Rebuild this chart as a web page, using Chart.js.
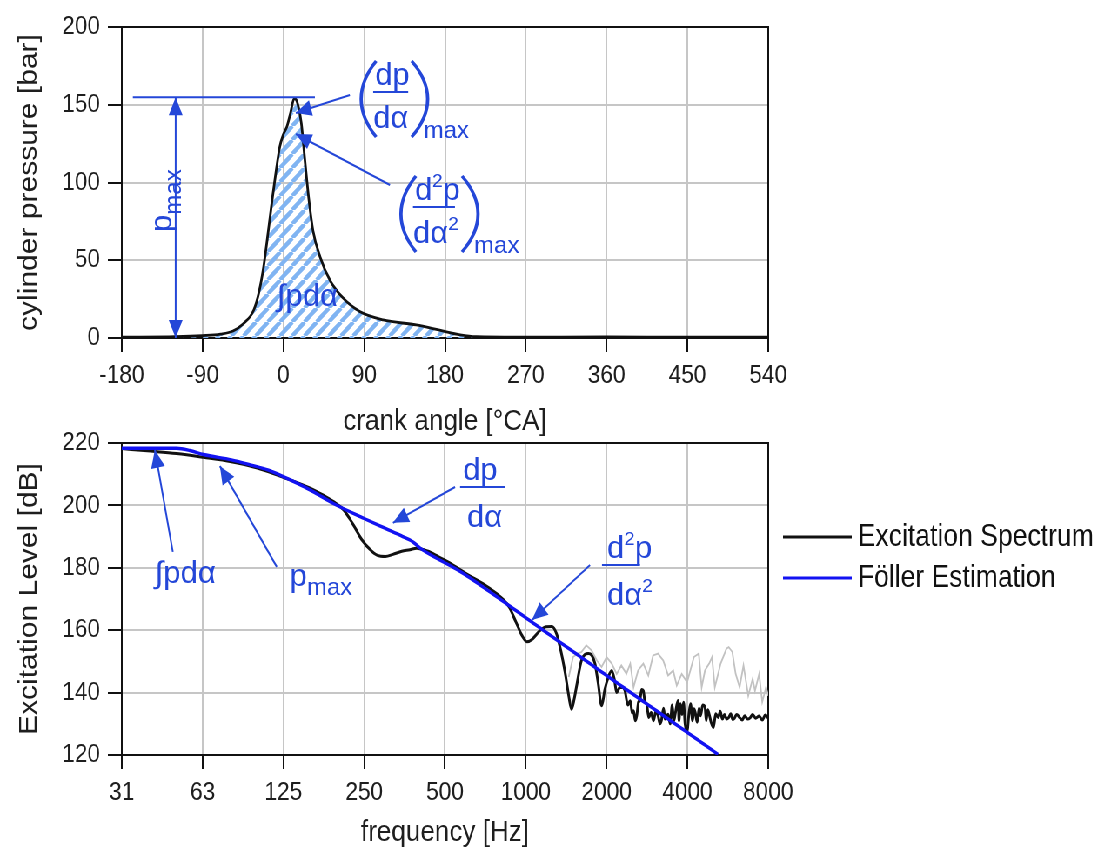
<!DOCTYPE html>
<html>
<head>
<meta charset="utf-8">
<script src="https://cdn.jsdelivr.net/npm/chart.js@4.4.1/dist/chart.umd.min.js"></script>
<style>
html, body { margin: 0; padding: 0; background: #fff; overflow: hidden; }
/* the source figure is squeezed horizontally, so draw wider and squeeze */
#wrap { position: relative; width: 1277px; height: 851px; transform: scaleX(0.87); transform-origin: 0 0; }
#top { position: absolute; left: 0; top: 0; }
#bottom { position: absolute; left: 0; top: 410px; }
</style>
</head>
<body>
<div id="wrap">
  <canvas id="top" width="1277" height="440"></canvas>
  <canvas id="bottom" width="1277" height="441"></canvas>
</div>
<script>
const SQ = 0.87;
const FONT = "'Liberation Sans', Arial, sans-serif";
const NOTE_FONT = "'Liberation Sans', 'DejaVu Sans', sans-serif";
const textColor = '#1e1e1e';
const gridColor = '#c6c6c6';
const noteBlue = '#2447d8';
const follerBlue = '#1212f2';

// cylinder pressure vs crank angle
const crankAngle = [-180, -120, -90, -70, -56, -45, -33, -27, -22, -17,
                    -12, -8, -4, 0, 4, 8, 12, 14, 17, 20,
                    24, 28, 33, 41, 52, 66, 85, 111, 148, 174,
                    197, 215, 260, 360, 450, 540];
const pressure = [0.5, 0.8, 1.5, 2.5, 4.5, 9, 18, 30, 46, 68,
                  91, 108, 123, 131, 136, 145, 154, 153.5, 148, 138,
                  114, 91, 69, 52, 37, 26, 17, 11.6, 8.4, 5,
                  2, 0.8, 0.5, 0.7, 0.5, 0.5];

// excitation spectrum (black)
const specFreq = [31.25, 40, 50, 63, 80, 100, 125, 160, 192, 210,
                  227, 245, 262, 280, 300, 320, 345, 370, 392, 430,
                  470, 520, 603, 717, 824, 870, 920, 965, 1010, 1060,
                  1120, 1190, 1250, 1300, 1350, 1400, 1445, 1480, 1515, 1545,
                  1612, 1709, 1760, 1810, 1860, 1916, 1970, 2030, 2090, 2140,
                  2180, 2240, 2300, 2340, 2400, 2450, 2490, 2520, 2560, 2590,
                  2630, 2660, 2700, 2740, 2780, 2820, 2870, 2930, 2990, 3050,
                  3110, 3160, 3200, 3260, 3300, 3390, 3450, 3510, 3560, 3610,
                  3690, 3720, 3770, 3820, 3870, 3920, 3990, 4050, 4110, 4180,
                  4230, 4280, 4350, 4420, 4480, 4560, 4650, 4700, 4760, 4820,
                  4900, 5000, 5100, 5210, 5300, 5400, 5500, 5600, 5700, 5800,
                  5900, 5990, 6100, 6260, 6400, 6540, 6700, 6860, 7000, 7180,
                  7400, 7600, 7800, 8000];
const specLevel = [218.2, 217.4, 216.6, 215.4, 214, 212, 209, 205.2, 201.2, 198.5,
                   194, 189, 186, 184, 183.6, 184.3, 185.3, 185.8, 186.3, 185.4,
                   183.7, 181.6, 178, 174, 169.8, 167.2, 162.5, 158.5, 156.3, 157.2,
                   159.6, 161.1, 161.2, 159, 153.5, 146.5, 139, 134.7, 138, 142,
                   150.3, 152.5, 152, 149.3, 143, 135.8, 141, 145, 147.1, 144,
                   140, 141.7, 141.6, 140.6, 136, 137.4, 133.5, 134.2, 131, 132.6,
                   137, 137.4, 141, 140.6, 137, 136.4, 132, 133.6, 131, 134,
                   132.6, 130, 131, 135, 131.5, 133.1, 130, 136, 131, 133.6,
                   137.5, 131, 136.4, 133, 136.9, 130, 127.7, 133, 136.4, 131,
                   134.8, 133.6, 130.5, 135, 132.6, 136, 135.3, 131, 134.5, 133.1,
                   130.5, 128.8, 133.2, 132, 134, 131.5, 133, 131.5, 132, 133.2,
                   131.4, 131.8, 133, 132, 131.2, 132.6, 131.5, 132, 133, 131.8,
                   132.5, 131.2, 132.8, 131.8];

// light grey trace (no legend entry)
const greyFreq = [1445, 1500, 1560, 1612, 1680, 1760, 1840, 1916, 2000, 2090,
                  2180, 2270, 2370, 2450, 2520, 2620, 2740, 2860, 2980, 3110,
                  3250, 3390, 3540, 3650, 3810, 3990, 4230, 4410, 4520, 4650,
                  4820, 4940, 5060, 5320, 5590, 5700, 5880, 6050, 6260, 6470,
                  6740, 7000, 7140, 7400, 7600, 7850, 8000];
const greyLevel = [145, 151.4, 152.5, 153, 155.2, 153.5, 150.3, 148.2, 151.4, 149.3,
                   146, 148.7, 146, 149.3, 141.7, 147.1, 149.3, 145.5, 151.9, 152.5,
                   150.3, 145.5, 147.1, 142.3, 146, 143.3, 151.4, 152.5, 141.7, 147.1,
                   149.3, 151.4, 141.7, 149.3, 154.1, 154.6, 153, 146, 141.7, 148.7,
                   139, 144.4, 140.6, 146, 137, 141.7, 139];

// Föller estimation (blue)
const follerFreq = [31.25, 50, 56, 63, 80, 94, 110, 125, 160, 192,
                    250, 300, 348, 380, 404, 570, 1000, 2000, 4000, 5200];
const follerLevel = [218.3, 218.3, 217.6, 216.3, 214.6, 213, 211.3, 209.2, 204.6, 200.6,
                     195.8, 192.6, 190, 188.3, 186.3, 178.8, 164, 145.5, 127.2, 120.2];

const freqTicks = [31.25, 62.5, 125, 250, 500, 1000, 2000, 4000, 8000];
const freqTickLabels = ['31', '63', '125', '250', '500', '1000', '2000', '4000', '8000'];

const seriesLabels = ['Excitation Spectrum', 'Föller Estimation'];

// annotations, anchored in data units
const topNotes = [
    { type: 'line', from: [-167.7, 154.8], to: [35.1, 154.8] },
    { type: 'arrow', from: [-120, 0], to: [-120, 154.8], both: true },
    { type: 'rtext', at: [-124.3, 68.2], parts: [['p', 'n'], ['max', 'sub']] },
    { type: 'text', at: [-7.2, 20.6], parts: [['∫pdα', 'n']] },
    { type: 'frac', at: [100, 158.2], num: [['dp', 'n']], den: [['dα', 'n']], bar: 35, parens: true },
    { type: 'arrow', from: [74.1, 156.3], to: [13.9, 144.7] },
    { type: 'frac', at: [144.3, 84.2], num: [['d', 'n'], ['2', 'sup'], ['p', 'n']],
      den: [['dα', 'n'], ['2', 'sup']], bar: 42, parens: true },
    { type: 'arrow', from: [118.7, 98.4], to: [13.9, 131.2] }
];
const bottomNotes = [
    { type: 'text', at: [41.5, 175.1], parts: [['∫pdα', 'n']] },
    { type: 'arrow', from: [48.4, 185.1], to: [41.5, 217.8] },
    { type: 'text', at: [131.9, 174.2], parts: [['p', 'n'], ['max', 'sub']] },
    { type: 'arrow', from: [118.1, 180.3], to: [72.5, 212.6] },
    { type: 'frac', at: [569, 205.9], num: [['dp', 'n']], den: [['dα', 'n']], bar: 45, numX: 3, denX: 7, denY: 40 },
    { type: 'arrow', from: [545, 205.9], to: [320, 194.4] },
    { type: 'frac', at: [1922, 180.9], num: [['d', 'n'], ['2', 'sup'], ['p', 'n']],
      den: [['dα', 'n'], ['2', 'sup']], bar: 38, numX: 5, denX: 5, denY: 40 },
    { type: 'arrow', from: [1735, 180.9], to: [1055, 163.3] }
];

Chart.defaults.font.family = FONT;
Chart.defaults.color = textColor;

function toPixel(chart, p) {
    return [chart.scales.x.getPixelForValue(p[0]), chart.scales.y.getPixelForValue(p[1])];
}

function drawParts(ctx, x, y, parts) {
    for (const [s, kind] of parts) {
        const size = kind === 'n' ? 31 : kind === 'sub' ? 24 : 19;
        const dy = kind === 'sup' ? -13 : kind === 'sub' ? 9 : 0;
        ctx.font = size + 'px ' + NOTE_FONT;
        ctx.fillText(s, x, y + dy);
        x += ctx.measureText(s).width;
    }
    return x;
}

function paren(ctx, apexX, endX, y1, y2) {
    ctx.beginPath();
    ctx.moveTo(endX, y1);
    ctx.quadraticCurveTo(2 * apexX - endX, (y1 + y2) / 2, endX, y2);
    ctx.lineWidth = 3.2;
    ctx.stroke();
}

function arrowHead(ctx, fx, fy, tx, ty) {
    const a = Math.atan2(ty - fy, tx - fx), len = 18, hw = 8;
    const bx = tx - len * Math.cos(a), by = ty - len * Math.sin(a);
    ctx.beginPath();
    ctx.moveTo(tx, ty);
    ctx.lineTo(bx + hw * Math.sin(a), by - hw * Math.cos(a));
    ctx.lineTo(bx - hw * Math.sin(a), by + hw * Math.cos(a));
    ctx.closePath();
    ctx.fill();
}

const notesPlugin = {
    id: 'notes',
    afterDatasetsDraw(chart, args, opts) {
        const ctx = chart.ctx;
        ctx.save();
        ctx.strokeStyle = noteBlue;
        ctx.fillStyle = noteBlue;
        ctx.textBaseline = 'alphabetic';
        ctx.textAlign = 'left';
        for (const n of opts.items || []) {
            if (n.type === 'line' || n.type === 'arrow') {
                const [x1, y1] = toPixel(chart, n.from);
                const [x2, y2] = toPixel(chart, n.to);
                ctx.lineWidth = 2;
                ctx.beginPath();
                ctx.moveTo(x1, y1);
                ctx.lineTo(x2, y2);
                ctx.stroke();
                if (n.type === 'arrow') {
                    arrowHead(ctx, x1, y1, x2, y2);
                    if (n.both) arrowHead(ctx, x2, y2, x1, y1);
                }
            } else {
                const [ox, oy] = toPixel(chart, n.at);
                ctx.save();
                ctx.translate(ox, oy);
                ctx.scale(1 / SQ, 1);   // keep note text un-squeezed
                if (n.type === 'rtext') {
                    ctx.rotate(-Math.PI / 2);
                    drawParts(ctx, 0, 0, n.parts);
                } else if (n.type === 'text') {
                    drawParts(ctx, 0, 0, n.parts);
                } else if (n.type === 'frac') {
                    ctx.lineWidth = 2;
                    ctx.beginPath();
                    ctx.moveTo(0, 0);
                    ctx.lineTo(n.bar, 0);
                    ctx.stroke();
                    const numEnd = drawParts(ctx, n.numX ?? 2, -7, n.num);
                    const denEnd = drawParts(ctx, n.denX ?? 0, n.denY ?? 36, n.den);
                    if (n.parens) {
                        const r = Math.max(numEnd, denEnd, n.bar) + 2;
                        paren(ctx, -12, 3, -31, 45);
                        paren(ctx, r + 16, r, -31, 45);
                        drawParts(ctx, r + 12, 37, [['max', 'sub']]);
                    }
                }
                ctx.restore();
            }
        }
        ctx.restore();
    }
};

const framePlugin = {
    id: 'frame',
    beforeDatasetsDraw(chart) {
        const { ctx, chartArea: a } = chart;
        ctx.save();
        ctx.strokeStyle = '#111';
        ctx.lineWidth = 2;
        ctx.strokeRect(a.left, a.top, a.right - a.left, a.bottom - a.top);
        ctx.restore();
    }
};

const sideLegendPlugin = {
    id: 'sideLegend',
    afterDraw(chart) {
        const { ctx, chartArea: a } = chart;
        const items = chart.data.datasets.filter(d => d.label);
        ctx.save();
        ctx.font = '30.5px ' + FONT;
        ctx.textBaseline = 'middle';
        ctx.fillStyle = '#111';
        items.forEach((d, i) => {
            const x = a.right + 17;
            const y = a.top + 94 + i * 41;
            ctx.strokeStyle = d.borderColor;
            ctx.lineWidth = 3;
            ctx.beginPath();
            ctx.moveTo(x, y);
            ctx.lineTo(x + 79, y);
            ctx.stroke();
            ctx.fillText(d.label, x + 86, y + 1);
        });
        ctx.restore();
    }
};

function makeHatch(ctx) {
    const s = 14;
    const c = document.createElement('canvas');
    c.width = s; c.height = s;
    const g = c.getContext('2d');
    g.strokeStyle = '#80b4f2';
    g.lineWidth = 4.5;
    g.beginPath();
    for (const o of [-s, 0, s]) { g.moveTo(o, s); g.lineTo(o + s, 0); }
    g.stroke();
    return ctx.createPattern(c, 'repeat');
}

function gridOpts(tickLength) {
    return { color: gridColor, lineWidth: 2, tickColor: '#111', tickWidth: 2, tickLength: tickLength };
}
const tickFont = { size: 26 };
const titleFont = { size: 30, lineHeight: 1 };

const topCtx = document.getElementById('top').getContext('2d');
new Chart(topCtx, {
    type: 'line',
    data: {
        datasets: [{
            data: crankAngle.map((a, i) => ({ x: a, y: pressure[i] })),
            borderColor: '#111',
            borderWidth: 2.8,
            pointRadius: 0,
            cubicInterpolationMode: 'monotone',
            fill: 'origin',
            backgroundColor: makeHatch(topCtx)
        }]
    },
    options: {
        responsive: false,
        animation: false,
        events: [],
        layout: { padding: { left: 0, right: 394, top: 27, bottom: 0 } },
        plugins: { legend: { display: false }, tooltip: { enabled: false }, notes: { items: topNotes } },
        scales: {
            x: {
                type: 'linear', min: -180, max: 540,
                afterFit: s => { s.height = 102; },
                ticks: { stepSize: 90, padding: 8, font: tickFont, color: textColor, maxRotation: 0 },
                grid: gridOpts(14),
                border: { display: false },
                title: { display: true, text: 'crank angle [°CA]', font: titleFont, color: textColor, padding: { top: 0, bottom: 3 } }
            },
            y: {
                min: 0, max: 200,
                afterFit: s => { s.width = 140; },
                ticks: { stepSize: 50, padding: 9, font: tickFont, color: textColor },
                grid: gridOpts(16),
                border: { display: false },
                title: { display: true, text: 'cylinder pressure [bar]', font: titleFont, color: textColor, padding: { top: 19, bottom: 0 } }
            }
        }
    },
    plugins: [framePlugin, notesPlugin]
});

const bottomCtx = document.getElementById('bottom').getContext('2d');
new Chart(bottomCtx, {
    type: 'line',
    data: {
        datasets: [
            {
                label: seriesLabels[0],
                data: specFreq.map((f, i) => ({ x: f, y: specLevel[i] })),
                borderColor: '#111',
                borderWidth: 3,
                pointRadius: 0,
                cubicInterpolationMode: 'monotone',
                order: 1
            },
            {
                label: seriesLabels[1],
                data: follerFreq.map((f, i) => ({ x: f, y: follerLevel[i] })),
                borderColor: follerBlue,
                borderWidth: 3.5,
                pointRadius: 0,
                cubicInterpolationMode: 'monotone',
                order: 0
            },
            {
                data: greyFreq.map((f, i) => ({ x: f, y: greyLevel[i] })),
                borderColor: '#c2c2c2',
                borderWidth: 1.8,
                pointRadius: 0,
                tension: 0,
                order: 2
            }
        ]
    },
    options: {
        responsive: false,
        animation: false,
        events: [],
        layout: { padding: { left: 0, right: 394, top: 33, bottom: 0 } },
        plugins: { legend: { display: false }, tooltip: { enabled: false }, notes: { items: bottomNotes } },
        scales: {
            x: {
                type: 'logarithmic', min: 31.25, max: 8000,
                afterFit: s => { s.height = 96; },
                afterBuildTicks: s => { s.ticks = freqTicks.map(v => ({ value: v })); },
                ticks: { padding: 8, font: tickFont, color: textColor, maxRotation: 0, autoSkip: false,
                         callback: (v, i) => freqTickLabels[i] },
                grid: gridOpts(14),
                border: { display: false },
                title: { display: true, text: 'frequency [Hz]', font: titleFont, color: textColor, padding: { top: 0, bottom: 3 } }
            },
            y: {
                min: 120, max: 220,
                afterFit: s => { s.width = 140; },
                ticks: { stepSize: 20, padding: 9, font: tickFont, color: textColor },
                grid: gridOpts(16),
                border: { display: false },
                title: { display: true, text: 'Excitation Level [dB]', font: titleFont, color: textColor, padding: { top: 19, bottom: 0 } }
            }
        }
    },
    plugins: [framePlugin, notesPlugin, sideLegendPlugin]
});
</script>
</body>
</html>
